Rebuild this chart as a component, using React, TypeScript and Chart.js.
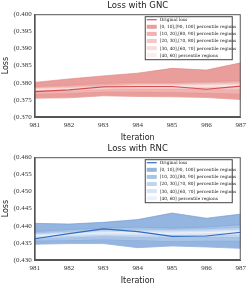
import React, { useEffect, useRef } from 'react';
import { Chart, registerables } from 'chart.js';

Chart.register(...registerables);

const iterations = ['981', '982', '983', '984', '985', '986', '987'];

const legendLabels = [
  'Original loss',
  '[0, 10],[90, 100] percentile regions',
  '[10, 20],[80, 90] percentile regions',
  '[20, 30],[70, 80] percentile regions',
  '[30, 40],[60, 70] percentile regions',
  '[40, 60] percentile regions',
];

// GNC
const gncOriginal = [0.3774, 0.3779, 0.3788, 0.3789, 0.3789, 0.3781, 0.3790];
const gncP100 = [0.3801, 0.3811, 0.3820, 0.3828, 0.3842, 0.3837, 0.3858];
const gncP90 = [0.3789, 0.3793, 0.3798, 0.3801, 0.3801, 0.3803, 0.3806];
const gncP80 = [0.3786, 0.3789, 0.3793, 0.3797, 0.3798, 0.3799, 0.3802];
const gncP70 = [0.3784, 0.3786, 0.3790, 0.3794, 0.3795, 0.3796, 0.3798];
const gncP60 = [0.3782, 0.3784, 0.3788, 0.3792, 0.3793, 0.3793, 0.3795];
const gncP40 = [0.3779, 0.3781, 0.3785, 0.3788, 0.3789, 0.3789, 0.3790];
const gncP30 = [0.3777, 0.3779, 0.3783, 0.3786, 0.3786, 0.3786, 0.3786];
const gncP20 = [0.3774, 0.3776, 0.3780, 0.3782, 0.3782, 0.3781, 0.3780];
const gncP10 = [0.3767, 0.3769, 0.3774, 0.3774, 0.3772, 0.3770, 0.3768];
const gncP0 = [0.3755, 0.3756, 0.3762, 0.3760, 0.3759, 0.3757, 0.3751];
const gncTicks = [0.370, 0.375, 0.380, 0.385, 0.390, 0.395, 0.400];

// RNC
const rncOriginal = [0.4362, 0.4377, 0.4391, 0.4383, 0.4369, 0.4370, 0.4381];
const rncP100 = [0.4407, 0.4405, 0.4410, 0.4418, 0.4437, 0.4422, 0.4434];
const rncP90 = [0.4383, 0.4389, 0.4393, 0.4396, 0.4393, 0.4396, 0.4403];
const rncP80 = [0.4379, 0.4384, 0.4388, 0.4390, 0.4389, 0.4391, 0.4395];
const rncP70 = [0.4376, 0.4381, 0.4385, 0.4386, 0.4385, 0.4387, 0.4390];
const rncP60 = [0.4373, 0.4378, 0.4382, 0.4382, 0.4381, 0.4383, 0.4386];
const rncP40 = [0.4369, 0.4374, 0.4377, 0.4377, 0.4376, 0.4378, 0.4380];
const rncP30 = [0.4366, 0.4370, 0.4373, 0.4372, 0.4371, 0.4373, 0.4374];
const rncP20 = [0.4362, 0.4366, 0.4369, 0.4367, 0.4366, 0.4367, 0.4367];
const rncP10 = [0.4356, 0.4358, 0.4360, 0.4358, 0.4355, 0.4356, 0.4356];
const rncP0 = [0.4346, 0.4348, 0.4348, 0.4336, 0.4341, 0.4338, 0.4334];
const rncTicks = [0.430, 0.435, 0.440, 0.445, 0.450, 0.455, 0.460];

const redLine = 'rgb(214, 78, 76)';
const redBands = ['rgb(234, 158, 155)', 'rgb(239, 178, 176)', 'rgb(244, 200, 198)', 'rgb(248, 219, 218)', 'rgb(252, 237, 236)'];
const redEdges = ['rgb(222, 124, 121)', 'rgb(228, 142, 139)', 'rgb(234, 162, 159)', 'rgb(240, 186, 184)', 'rgb(245, 207, 206)'];

const blueLine = 'rgb(50, 108, 190)';
const blueBands = ['rgb(148, 181, 224)', 'rgb(168, 196, 231)', 'rgb(192, 212, 238)', 'rgb(214, 228, 245)', 'rgb(235, 241, 250)'];
const blueEdges = ['rgb(108, 150, 209)', 'rgb(128, 164, 215)', 'rgb(153, 184, 225)', 'rgb(183, 205, 235)', 'rgb(206, 222, 242)'];

type Props = {
  title: string;
  original: number[];
  pairs: [number[], number[]][];
  ticks: number[];
  line: string;
  bands: string[];
  edges: string[];
};

function BandChart({ title, original, pairs, ticks, line, bands, edges }: Props) {
  const ref = useRef<HTMLCanvasElement>(null);
  useEffect(() => {
    if (!ref.current) return;
    const datasets: any[] = [
      {
        label: legendLabels[0],
        data: original,
        borderColor: line,
        borderWidth: 1.2,
        pointRadius: 0,
        fill: false,
        order: 0,
      },
    ];
    pairs.forEach(([hi, lo], i) => {
      const idx = datasets.length;
      datasets.push({
        label: legendLabels[i + 1],
        data: hi,
        borderColor: edges[i],
        borderWidth: 0.6,
        backgroundColor: bands[i],
        pointRadius: 0,
        fill: idx + 1,
        order: 20 - i * 2,
      });
      datasets.push({
        label: legendLabels[i + 1] + ' low',
        data: lo,
        borderColor: edges[i],
        borderWidth: 0.6,
        pointRadius: 0,
        fill: false,
        order: 20 - i * 2,
      });
    });

    const boxLegend = {
      id: 'boxLegend',
      afterDraw(chart: any) {
        const { ctx, chartArea } = chart;
        ctx.save();
        ctx.strokeStyle = '#555';
        ctx.lineWidth = 1;
        ctx.strokeRect(chartArea.left + 0.5, chartArea.top + 0.5, chartArea.right - chartArea.left - 1, chartArea.bottom - chartArea.top - 1);
        const w = 87;
        const h = 43;
        const x = chartArea.right - 9 - w;
        const y = chartArea.top + 2;
        ctx.fillStyle = '#fff';
        ctx.fillRect(x, y, w, h);
        ctx.strokeStyle = '#444';
        ctx.lineWidth = 1;
        ctx.strokeRect(x + 0.5, y + 0.5, w, h);
        ctx.font = '4.3px "DejaVu Serif", serif';
        ctx.textBaseline = 'middle';
        ctx.textAlign = 'left';
        legendLabels.forEach((lab, i) => {
          const cy = y + 3.5 + i * 7.1;
          if (i === 0) {
            ctx.strokeStyle = line;
            ctx.lineWidth = 1.2;
            ctx.beginPath();
            ctx.moveTo(x + 2, cy);
            ctx.lineTo(x + 12, cy);
            ctx.stroke();
          } else {
            ctx.fillStyle = bands[i - 1];
            ctx.fillRect(x + 2, cy - 2, 10, 4);
          }
          ctx.fillStyle = '#222';
          ctx.fillText(lab, x + 15, cy + 0.3);
        });
        ctx.restore();
      },
    };

    const chart = new Chart(ref.current, {
      type: 'line',
      data: { labels: iterations, datasets },
      options: {
        animation: false,
        responsive: false,
        maintainAspectRatio: false,
        layout: { padding: { top: 1, right: 3, left: 1, bottom: 0 } },
        plugins: {
          legend: { display: false },
          tooltip: { enabled: false },
          title: {
            display: true,
            text: title,
            fullSize: false,
            color: '#222',
            font: { family: 'DejaVu Sans, sans-serif', size: 8.5, weight: 'normal' },
            padding: { top: 0, bottom: 3 },
          },
          filler: { propagate: false },
        } as any,
        scales: {
          x: {
            type: 'category',
            offset: false,
            grid: { display: false, drawTicks: false },
            border: { display: true, color: '#555', width: 1 },
            ticks: {
              color: '#333',
              padding: 4,
              maxRotation: 0,
              font: { family: '"Liberation Serif", serif', size: 7 },
            },
            title: {
              display: true,
              text: 'Iteration',
              color: '#222',
              padding: { top: 0, bottom: 0 },
              font: { family: 'DejaVu Sans, sans-serif', size: 8 },
            },
          },
          y: {
            type: 'linear',
            min: ticks[0],
            max: ticks[ticks.length - 1],
            afterBuildTicks: (axis: any) => {
              axis.ticks = ticks.map((v) => ({ value: v }));
            },
            grid: { display: false, drawTicks: false },
            border: { display: true, color: '#555', width: 1 },
            ticks: {
              color: '#333',
              padding: 3,
              font: { family: '"Liberation Serif", serif', size: 7 },
              callback: (v: any) => '(' + Number(v).toFixed(3),
            },
            title: {
              display: true,
              text: 'Loss',
              color: '#222',
              padding: { top: 0, bottom: 0 },
              font: { family: 'DejaVu Sans, sans-serif', size: 8 },
            },
          },
        },
      },
      plugins: [boxLegend],
    } as any);
    return () => chart.destroy();
  }, []);
  return <canvas ref={ref} width={250} height={143} style={{ display: 'block', width: 250, height: 143 }} />;
}

export default function App() {
  return (
    <div style={{ position: 'absolute', left: 0, top: 0, width: 250, height: 286, background: '#fff' }}>
      <BandChart
        title="Loss with GNC"
        original={gncOriginal}
        pairs={[
          [gncP100, gncP0],
          [gncP90, gncP10],
          [gncP80, gncP20],
          [gncP70, gncP30],
          [gncP60, gncP40],
        ]}
        ticks={gncTicks}
        line={redLine}
        bands={redBands}
        edges={redEdges}
      />
      <BandChart
        title="Loss with RNC"
        original={rncOriginal}
        pairs={[
          [rncP100, rncP0],
          [rncP90, rncP10],
          [rncP80, rncP20],
          [rncP70, rncP30],
          [rncP60, rncP40],
        ]}
        ticks={rncTicks}
        line={blueLine}
        bands={blueBands}
        edges={blueEdges}
      />
    </div>
  );
}
